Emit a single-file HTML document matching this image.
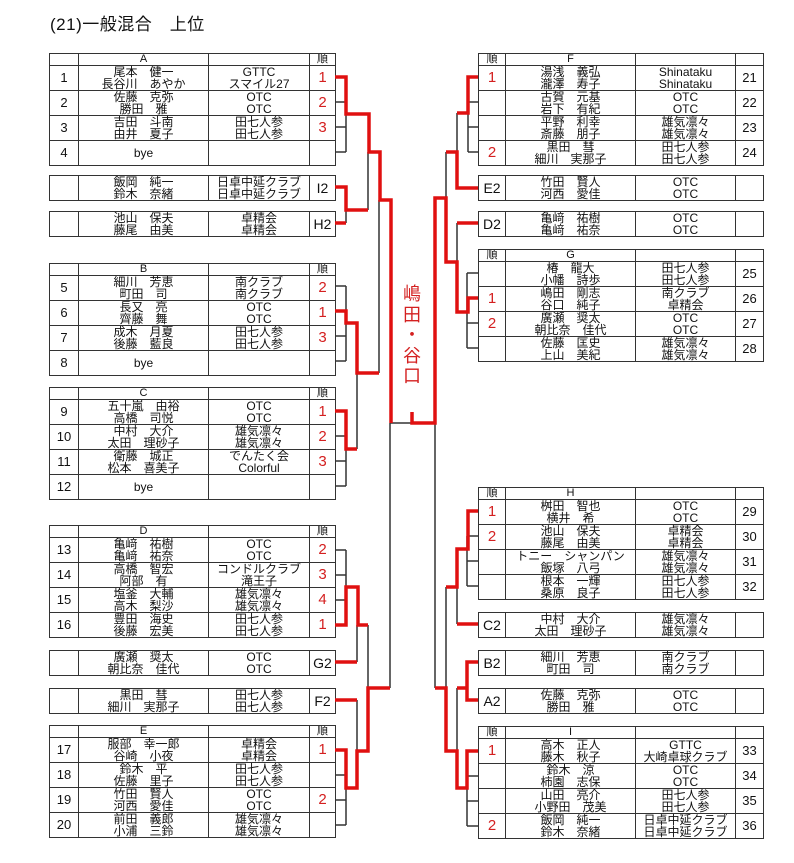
<!DOCTYPE html>
<html><head><meta charset="utf-8">
<style>
body{margin:0;background:#fff;width:794px;height:863px;position:relative;overflow:hidden;font-family:"Liberation Sans","Noto Sans CJK JP",sans-serif;color:#111}
.title{position:absolute;left:50px;top:10px;font-size:17px;letter-spacing:0.5px}
table{position:absolute;border-collapse:collapse;table-layout:fixed;border:1.5px solid #333}
td{border:1px solid #333;padding:0;text-align:center;font-size:12px;line-height:12px;height:24px;overflow:hidden;white-space:nowrap}
tr.h td{height:11px;line-height:11px;font-size:11px}
td.n{font-size:13px}
td.r{color:#d42020;font-size:15px}
td.b{font-size:14px}
.champ{position:absolute;left:402px;top:284px;width:20px;color:#d42020;font-size:18px;line-height:20.5px;text-align:center}
svg{position:absolute;left:0;top:0}
</style></head><body>
<div class="title">(21)一般混合　上位</div>

<!-- LEFT -->
<table style="left:49px;top:53px;width:286px"><colgroup><col style="width:29px"><col style="width:130px"><col style="width:101px"><col style="width:26px"></colgroup>
<tr class="h"><td></td><td>A</td><td></td><td>順</td></tr>
<tr><td class="n">1</td><td>尾本　健一<br>長谷川　あやか</td><td>GTTC<br>スマイル27</td><td class="r">1</td></tr>
<tr><td class="n">2</td><td>佐藤　克弥<br>勝田　雅</td><td>OTC<br>OTC</td><td class="r">2</td></tr>
<tr><td class="n">3</td><td>吉田　斗南<br>由井　夏子</td><td>田七人参<br>田七人参</td><td class="r">3</td></tr>
<tr><td class="n">4</td><td>bye</td><td></td><td></td></tr></table>

<table style="left:49px;top:175px;width:286px"><colgroup><col style="width:29px"><col style="width:130px"><col style="width:101px"><col style="width:26px"></colgroup>
<tr><td></td><td>飯岡　純一<br>鈴木　奈緒</td><td>日卓中延クラブ<br>日卓中延クラブ</td><td class="b">I2</td></tr></table>
<table style="left:49px;top:211px;width:286px"><colgroup><col style="width:29px"><col style="width:130px"><col style="width:101px"><col style="width:26px"></colgroup>
<tr><td></td><td>池山　保夫<br>藤尾　由美</td><td>卓精会<br>卓精会</td><td class="b">H2</td></tr></table>

<table style="left:49px;top:263px;width:286px"><colgroup><col style="width:29px"><col style="width:130px"><col style="width:101px"><col style="width:26px"></colgroup>
<tr class="h"><td></td><td>B</td><td></td><td>順</td></tr>
<tr><td class="n">5</td><td>細川　芳恵<br>町田　司</td><td>南クラブ<br>南クラブ</td><td class="r">2</td></tr>
<tr><td class="n">6</td><td>長又　亮<br>齊藤　舞</td><td>OTC<br>OTC</td><td class="r">1</td></tr>
<tr><td class="n">7</td><td>成木　月夏<br>後藤　藍良</td><td>田七人参<br>田七人参</td><td class="r">3</td></tr>
<tr><td class="n">8</td><td>bye</td><td></td><td></td></tr></table>

<table style="left:49px;top:387px;width:286px"><colgroup><col style="width:29px"><col style="width:130px"><col style="width:101px"><col style="width:26px"></colgroup>
<tr class="h"><td></td><td>C</td><td></td><td>順</td></tr>
<tr><td class="n">9</td><td>五十嵐　由裕<br>高橋　司悦</td><td>OTC<br>OTC</td><td class="r">1</td></tr>
<tr><td class="n">10</td><td>中村　大介<br>太田　理砂子</td><td>雄気凛々<br>雄気凛々</td><td class="r">2</td></tr>
<tr><td class="n">11</td><td>衛藤　城正<br>松本　喜美子</td><td>でんたく会<br>Colorful</td><td class="r">3</td></tr>
<tr><td class="n">12</td><td>bye</td><td></td><td></td></tr></table>

<table style="left:49px;top:525px;width:286px"><colgroup><col style="width:29px"><col style="width:130px"><col style="width:101px"><col style="width:26px"></colgroup>
<tr class="h"><td></td><td>D</td><td></td><td>順</td></tr>
<tr><td class="n">13</td><td>亀﨑　祐樹<br>亀﨑　祐奈</td><td>OTC<br>OTC</td><td class="r">2</td></tr>
<tr><td class="n">14</td><td>高橋　智宏<br>阿部　有</td><td>コンドルクラブ<br>滝王子</td><td class="r">3</td></tr>
<tr><td class="n">15</td><td>塩釜　大輔<br>高木　梨沙</td><td>雄気凛々<br>雄気凛々</td><td class="r">4</td></tr>
<tr><td class="n">16</td><td>豊田　海史<br>後藤　宏美</td><td>田七人参<br>田七人参</td><td class="r">1</td></tr></table>

<table style="left:49px;top:650px;width:286px"><colgroup><col style="width:29px"><col style="width:130px"><col style="width:101px"><col style="width:26px"></colgroup>
<tr><td></td><td>廣瀬　奨太<br>朝比奈　佳代</td><td>OTC<br>OTC</td><td class="b">G2</td></tr></table>
<table style="left:49px;top:688px;width:286px"><colgroup><col style="width:29px"><col style="width:130px"><col style="width:101px"><col style="width:26px"></colgroup>
<tr><td></td><td>黒田　彗<br>細川　実那子</td><td>田七人参<br>田七人参</td><td class="b">F2</td></tr></table>

<table style="left:49px;top:725px;width:286px"><colgroup><col style="width:29px"><col style="width:130px"><col style="width:101px"><col style="width:26px"></colgroup>
<tr class="h"><td></td><td>E</td><td></td><td>順</td></tr>
<tr><td class="n">17</td><td>服部　幸一郎<br>谷崎　小夜</td><td>卓精会<br>卓精会</td><td class="r">1</td></tr>
<tr><td class="n">18</td><td>鈴木　平<br>佐藤　里子</td><td>田七人参<br>田七人参</td><td class="r"></td></tr>
<tr><td class="n">19</td><td>竹田　賢人<br>河西　愛佳</td><td>OTC<br>OTC</td><td class="r">2</td></tr>
<tr><td class="n">20</td><td>前田　義郎<br>小浦　三鈴</td><td>雄気凛々<br>雄気凛々</td><td class="r"></td></tr></table>

<!-- RIGHT -->
<table style="left:478px;top:53px;width:285px"><colgroup><col style="width:27px"><col style="width:130px"><col style="width:100px"><col style="width:28px"></colgroup>
<tr class="h"><td>順</td><td>F</td><td></td><td></td></tr>
<tr><td class="r">1</td><td>湯浅　義弘<br>瀧澤　寿子</td><td>Shinataku<br>Shinataku</td><td class="n">21</td></tr>
<tr><td class="r"></td><td>古賀　元基<br>岩下　有紀</td><td>OTC<br>OTC</td><td class="n">22</td></tr>
<tr><td class="r"></td><td>平野　利幸<br>斎藤　朋子</td><td>雄気凛々<br>雄気凛々</td><td class="n">23</td></tr>
<tr><td class="r">2</td><td>黒田　彗<br>細川　実那子</td><td>田七人参<br>田七人参</td><td class="n">24</td></tr></table>

<table style="left:478px;top:175px;width:285px"><colgroup><col style="width:27px"><col style="width:130px"><col style="width:100px"><col style="width:28px"></colgroup>
<tr><td class="b">E2</td><td>竹田　賢人<br>河西　愛佳</td><td>OTC<br>OTC</td><td></td></tr></table>
<table style="left:478px;top:211px;width:285px"><colgroup><col style="width:27px"><col style="width:130px"><col style="width:100px"><col style="width:28px"></colgroup>
<tr><td class="b">D2</td><td>亀﨑　祐樹<br>亀﨑　祐奈</td><td>OTC<br>OTC</td><td></td></tr></table>

<table style="left:478px;top:249px;width:285px"><colgroup><col style="width:27px"><col style="width:130px"><col style="width:100px"><col style="width:28px"></colgroup>
<tr class="h"><td>順</td><td>G</td><td></td><td></td></tr>
<tr><td class="r"></td><td>椿　龍大<br>小幡　詩歩</td><td>田七人参<br>田七人参</td><td class="n">25</td></tr>
<tr><td class="r">1</td><td>嶋田　剛志<br>谷口　純子</td><td>南クラブ<br>卓精会</td><td class="n">26</td></tr>
<tr><td class="r">2</td><td>廣瀬　奨太<br>朝比奈　佳代</td><td>OTC<br>OTC</td><td class="n">27</td></tr>
<tr><td class="r"></td><td>佐藤　匡史<br>上山　美紀</td><td>雄気凛々<br>雄気凛々</td><td class="n">28</td></tr></table>

<table style="left:478px;top:487px;width:285px"><colgroup><col style="width:27px"><col style="width:130px"><col style="width:100px"><col style="width:28px"></colgroup>
<tr class="h"><td>順</td><td>H</td><td></td><td></td></tr>
<tr><td class="r">1</td><td>桝田　智也<br>横井　希</td><td>OTC<br>OTC</td><td class="n">29</td></tr>
<tr><td class="r">2</td><td>池山　保夫<br>藤尾　由美</td><td>卓精会<br>卓精会</td><td class="n">30</td></tr>
<tr><td class="r"></td><td>トニー　シャンパン<br>飯塚　八弓</td><td>雄気凛々<br>雄気凛々</td><td class="n">31</td></tr>
<tr><td class="r"></td><td>根本　一輝<br>桑原　良子</td><td>田七人参<br>田七人参</td><td class="n">32</td></tr></table>

<table style="left:478px;top:612px;width:285px"><colgroup><col style="width:27px"><col style="width:130px"><col style="width:100px"><col style="width:28px"></colgroup>
<tr><td class="b">C2</td><td>中村　大介<br>太田　理砂子</td><td>雄気凛々<br>雄気凛々</td><td></td></tr></table>
<table style="left:478px;top:650px;width:285px"><colgroup><col style="width:27px"><col style="width:130px"><col style="width:100px"><col style="width:28px"></colgroup>
<tr><td class="b">B2</td><td>細川　芳恵<br>町田　司</td><td>南クラブ<br>南クラブ</td><td></td></tr></table>
<table style="left:478px;top:688px;width:285px"><colgroup><col style="width:27px"><col style="width:130px"><col style="width:100px"><col style="width:28px"></colgroup>
<tr><td class="b">A2</td><td>佐藤　克弥<br>勝田　雅</td><td>OTC<br>OTC</td><td></td></tr></table>

<table style="left:478px;top:726px;width:285px"><colgroup><col style="width:27px"><col style="width:130px"><col style="width:100px"><col style="width:28px"></colgroup>
<tr class="h"><td>順</td><td>I</td><td></td><td></td></tr>
<tr><td class="r">1</td><td>高木　正人<br>藤木　秋子</td><td>GTTC<br>大崎卓球クラブ</td><td class="n">33</td></tr>
<tr><td class="r"></td><td>鈴木　涼<br>柿園　志保</td><td>OTC<br>OTC</td><td class="n">34</td></tr>
<tr><td class="r"></td><td>山田　亮介<br>小野田　茂美</td><td>田七人参<br>田七人参</td><td class="n">35</td></tr>
<tr><td class="r">2</td><td>飯岡　純一<br>鈴木　奈緒</td><td>日卓中延クラブ<br>日卓中延クラブ</td><td class="n">36</td></tr></table>

<svg width="794" height="863" viewBox="0 0 794 863">
<g fill="none" stroke="#333" stroke-width="1.5">
<path d="M335,102H346M335,127H346M335,152H346M346,102V152"/>
<path d="M368,210V152M346,210V223"/>
<path d="M335,286H346M335,336H346M335,361H346M346,286V361M379,200V373"/>
<path d="M335,436H346M335,461H346M335,486H346M346,411V486M357,373V449"/>
<path d="M335,550H346M335,575H346M335,600H346M346,550V600M357,625V662M368,625V688"/>
<path d="M357,700V751M335,775H346M335,800H346M335,825H346M346,788V825"/>
<path d="M390,423H412M390,423V688M435,423V688"/>
<path d="M478,102H468M478,127H468M478,152H468M468,102V152M457,113V152M446,152V198M457,223V262"/>
<path d="M478,273H467M478,323H467M478,348H467M467,273V348"/>
<path d="M478,536H467M478,561H467M478,586H467M467,536V586M457,587V624M446,587V688"/>
<path d="M457,688V751M478,776H467M478,801H467M478,826H467M467,788V826"/>
</g>
<g fill="none" stroke="#e01010" stroke-width="3.5" stroke-linejoin="miter">
<path d="M335,77H346V114H369V152H380V200H391V423"/>
<path d="M335,187H346V210H368M335,223H346"/>
<path d="M335,311H346V323H357V373H379"/>
<path d="M335,411H346V449H357"/>
<path d="M335,625H346V587H358V625H368M335,662H357"/>
<path d="M335,700H357M335,750H346V788H357V751H368V688H390"/>
<path d="M412,412V423H435V198H446V262H457V312H468V298H478"/>
<path d="M478,77H468V113H457M478,188H457V152H446M478,223H457"/>
<path d="M478,511H468V549H457V587H446M478,624H457"/>
<path d="M478,662H467V700H478M457,688H467"/>
<path d="M478,751H467V788H457V751H446V688H435"/>
</g>
</svg>
<div class="champ">嶋<br>田<br>・<br>谷<br>口</div>
</body></html>
